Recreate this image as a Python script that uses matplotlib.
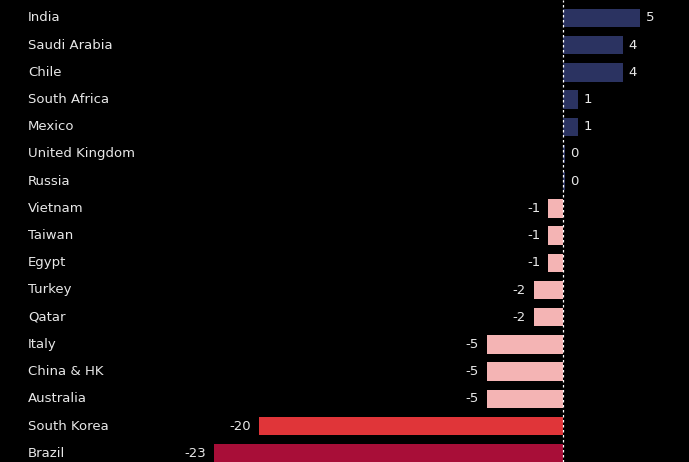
import matplotlib
matplotlib.use("Agg")
import matplotlib.pyplot as plt
import matplotlib.transforms as mtransforms

countries = ["India", "Saudi Arabia", "Chile", "South Africa", "Mexico", "United Kingdom",
             "Russia", "Vietnam", "Taiwan", "Egypt", "Turkey", "Qatar", "Italy",
             "China & HK", "Australia", "South Korea", "Brazil"]
values = [5.0, 3.9, 3.9, 0.95, 0.95, 0.1, 0.1, -0.95, -0.95, -0.95, -1.9, -1.9,
          -5.0, -5.0, -5.0, -19.9, -22.8]
labels = ["5", "4", "4", "1", "1", "0", "0", "-1", "-1", "-1", "-2", "-2",
          "-5", "-5", "-5", "-20", "-23"]

def bar_color(v):
    if v >= 0:
        return "#2b3361"
    if v > -10:
        return "#f4b4b4"
    if v > -21:
        return "#e03539"
    return "#a80e38"

fig = plt.figure(figsize=(6.89, 4.62), dpi=100, facecolor="black")
ax = fig.add_axes([0, 0, 1, 1])
ax.set_facecolor("black")

n = len(countries)
ys = [n - 1 - i for i in range(n)]
px = 15.3  # pixels per unit
ax.set_xlim(-563 / px, (689 - 563) / px)
ax.set_ylim(16 - 444 / 27.2, 16 + 18 / 27.2)

ax.barh(ys, values, height=0.67, color=[bar_color(v) for v in values], zorder=2)
ax.axvline(0, color="white", linestyle=(0, (2, 2)), linewidth=0.9, zorder=3)

trans = mtransforms.blended_transform_factory(ax.transAxes, ax.transData)
for y, name, v, lab in zip(ys, countries, values, labels):
    ax.text(28 / 689, y, name, transform=trans, color="#e8e8e8", fontsize=9.5,
            ha="left", va="center", family="DejaVu Sans")
    if v >= 0:
        ax.text(v + 6 / px, y, lab, color="#e8e8e8", fontsize=9.5, ha="left", va="center")
    else:
        ax.text(v - 8 / px, y, lab, color="#e8e8e8", fontsize=9.5, ha="right", va="center")

ax.axis("off")
fig.savefig("out.png", dpi=100, facecolor="black")
